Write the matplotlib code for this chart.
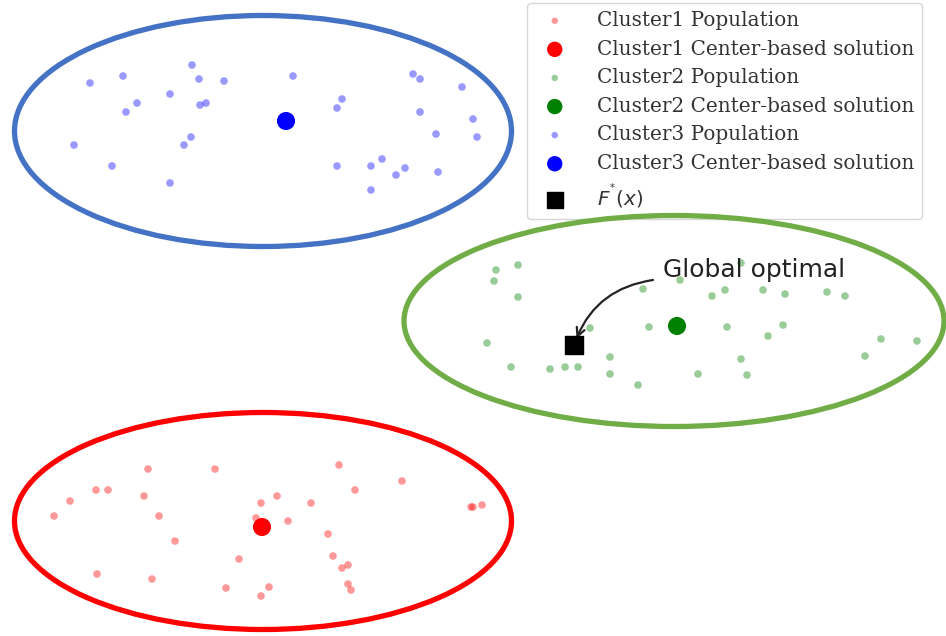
import numpy as np
import matplotlib
matplotlib.use("Agg")
import matplotlib.pyplot as plt
from matplotlib.patches import Ellipse

# values (pixel-like units, y grows downward)
c1_x = [148, 215, 339, 402, 96, 108, 355, 70, 144, 277, 261, 311, 471, 473, 482, 54, 159,
        288, 256, 328, 175, 239, 333, 348, 342, 97, 152, 226, 269, 261, 348, 351]
c1_y = [469, 469, 465, 481, 490, 490, 490, 501, 496, 496, 503, 503, 507, 507, 505, 516, 516,
        521, 518, 534, 541, 559, 556, 565, 568, 574, 579, 588, 587, 596, 584, 590]
c1_center = (262, 527)
c1_ell = (263, 521, 497, 217)

c2_x = [496, 518, 494, 518, 643, 680, 741, 712, 725, 763, 785, 827, 845, 487, 590, 649,
        727, 783, 768, 881, 917, 865, 610, 741, 511, 550, 565, 578, 610, 698, 747, 638]
c2_y = [270, 265, 281, 297, 289, 280, 263, 296, 290, 290, 294, 292, 296, 343, 328, 327,
        327, 325, 336, 339, 341, 356, 357, 359, 367, 369, 367, 367, 374, 374, 375, 385]
c2_center = (677, 326)
c2_ell = (674, 321, 540, 211)

c3_x = [90, 123, 192, 199, 224, 293, 413, 420, 462, 170, 137, 126, 200, 206, 342, 337,
        420, 473, 74, 191, 184, 436, 477, 112, 337, 371, 382, 396, 405, 438, 170, 371]
c3_y = [83, 76, 65, 79, 81, 76, 74, 79, 87, 94, 103, 112, 105, 103, 99, 108,
        112, 119, 145, 137, 145, 134, 137, 166, 166, 166, 159, 175, 168, 172, 183, 190]
c3_center = (286, 121)
c3_ell = (263, 131, 497, 231)

f_star = (574, 345)
note_pos = (663, 270)
arrow_start = (653, 280)

fig = plt.figure(figsize=(9.46, 6.36), dpi=100)
ax = fig.add_axes([0, 0, 1, 1])
ax.set_xlim(0, 946)
ax.set_ylim(636, 0)
ax.axis('off')

for (ex, ey, ew, eh), col in [(c1_ell, 'red'), (c2_ell, '#70AD47'), (c3_ell, '#4472C4')]:
    ax.add_patch(Ellipse((ex, ey), ew, eh, fill=False, edgecolor=col, lw=3.8, zorder=6))

ax.scatter(c1_x, c1_y, s=30, color='red', alpha=0.4, edgecolors='none', label='Cluster1 Population')
ax.scatter(*c1_center, s=170, color='red', edgecolors='none', label='Cluster1 Center-based solution')
ax.scatter(c2_x, c2_y, s=30, color='green', alpha=0.4, edgecolors='none', label='Cluster2 Population')
ax.scatter(*c2_center, s=170, color='green', edgecolors='none', label='Cluster2 Center-based solution')
ax.scatter(c3_x, c3_y, s=30, color='blue', alpha=0.4, edgecolors='none', label='Cluster3 Population')
ax.scatter(*c3_center, s=170, color='blue', edgecolors='none', label='Cluster3 Center-based solution')
ax.scatter(*f_star, s=170, marker='s', color='black', label='$F^{^{*}}(x)$', zorder=5)

ax.text(*note_pos, 'Global optimal', fontsize=18, va='center', ha='left', color='#222222')
ax.annotate('', xy=f_star, xytext=arrow_start,
            arrowprops=dict(arrowstyle='->,head_length=0.6,head_width=0.3', color='#222222',
                            lw=1.6, shrinkA=0, shrinkB=5,
                            connectionstyle='arc3,rad=0.3'))

leg = ax.legend(loc='upper right', bbox_to_anchor=(922 / 946, 1 - 3 / 636),
                prop={'family': 'DejaVu Serif', 'size': 14.4}, markerscale=0.85,
                labelspacing=0.48, handletextpad=1.1, borderaxespad=0)
for t in leg.get_texts():
    t.set_color('#333333')

fig.savefig('out.png', dpi=100)
